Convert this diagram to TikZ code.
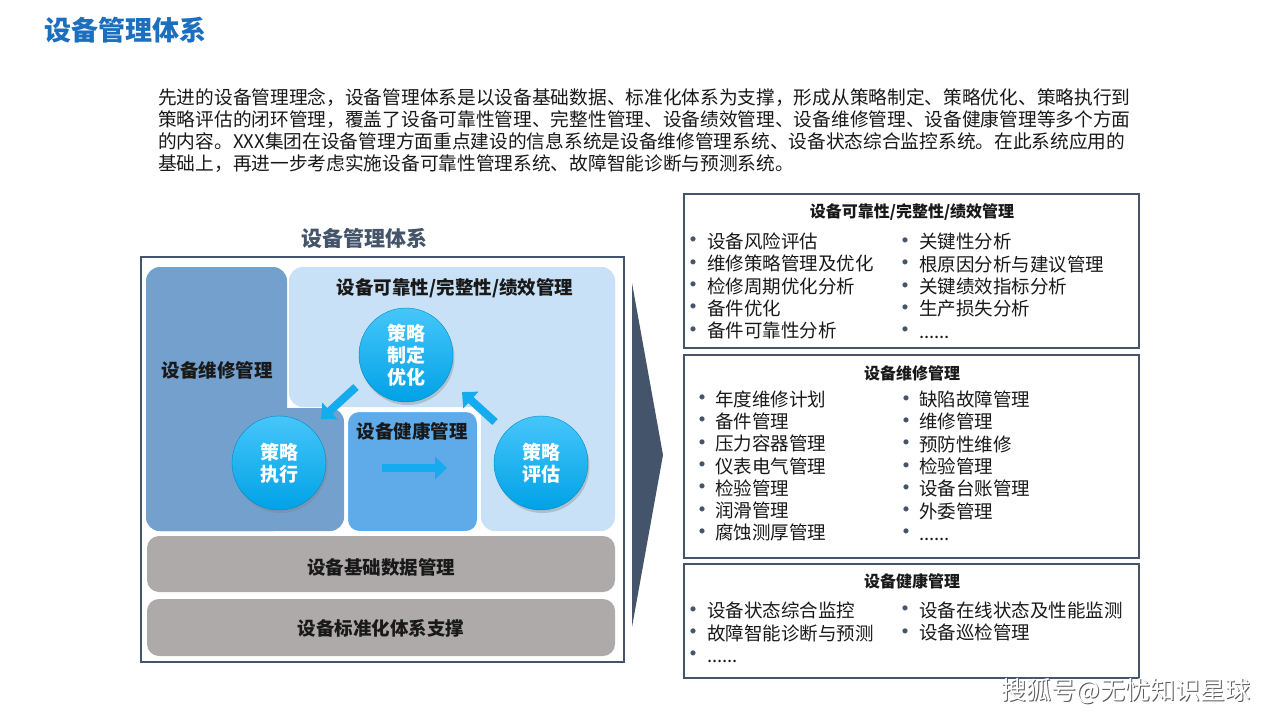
\documentclass[tikz,border=0pt]{standalone}
\usepackage{fontspec}
\setmainfont{Noto Sans CJK SC}
\usetikzlibrary{arrows.meta,shadows,calc}
\definecolor{titleblue}{RGB}{28,110,190}
\definecolor{slate}{RGB}{68,84,106}
\definecolor{darkblk}{RGB}{115,160,205}
\definecolor{lightblk}{RGB}{200,225,246}
\definecolor{healthblk}{RGB}{95,170,233}
\definecolor{graybar}{RGB}{174,170,170}
\definecolor{circtop}{RGB}{70,198,250}
\definecolor{circbot}{RGB}{0,162,230}
\definecolor{arrc}{RGB}{20,172,238}
\definecolor{txt}{RGB}{25,25,25}
\newcommand{\bitem}[1][18pt]{\makebox[#1][l]{\hspace{-8pt}\textcolor{slate}{\fontsize{24}{22}\selectfont\raisebox{-0.5pt}{•}}}\ignorespaces}
\begin{document}
\begin{tikzpicture}[x=1pt,y=-1pt,
  lbl/.style={inner sep=0, font=\fontsize{18.5}{22}\selectfont\bfseries, text=txt},
  circ/.style={circle, minimum size=94pt, inner sep=0, top color=circtop, bottom color=circbot,
    draw=circbot!85!black, line width=0.4pt, align=center, text=white,
    font=\fontsize{19}{22}\selectfont\bfseries,
    drop shadow={opacity=0.35, shadow xshift=1.5pt, shadow yshift=-3pt}},
  bigarr/.style={draw=arrc, line width=8pt, -{Triangle[width=22pt,length=12pt]}},
  boxtitle/.style={inner sep=0, font=\fontsize{16}{18}\selectfont\bfseries, text=txt},
  lst/.style={inner sep=0, anchor=west, align=left, text=txt, font=\fontsize{18.5}{22.3}\selectfont},
  rbox/.style={draw=slate, line width=1.8pt}]
\useasboundingbox (0,0) rectangle (1280,720);
\fill[white] (0,0) rectangle (1280,720);

% page title
\node[anchor=west, inner sep=0, font=\fontsize{27}{30}\selectfont\bfseries, text=titleblue] (title) at (44,30) {设备管理体系};

% paragraph
\node[anchor=west, inner sep=0, align=left, text=txt, font=\fontsize{18.7}{22}\selectfont] (para) at (158,130)
{先进的设备管理理念，设备管理体系是以设备基础数据、标准化体系为支撑，形成从策略制定、策略优化、策略执行到\\
策略评估的闭环管理，覆盖了设备可靠性管理、完整性管理、设备绩效管理、设备维修管理、设备健康管理等多个方面\\
的内容。XXX集团在设备管理方面重点建设的信息系统是设备维修管理系统、设备状态综合监控系统。在此系统应用的\\
基础上，再进一步考虑实施设备可靠性管理系统、故障智能诊断与预测系统。};

% left diagram
\node[inner sep=0, font=\fontsize{21}{24}\selectfont\bfseries, text=slate] (hd) at (364,238) {设备管理体系};
\draw[slate, line width=1.2pt] (141,257) rectangle (624,662);

\fill[darkblk, rounded corners=14pt] (146,267) rectangle (287,531);
\fill[darkblk, rounded corners=14pt] (146,408) rectangle (344,531);
\fill[lightblk, rounded corners=14pt] (289,267) rectangle (615,407);
\fill[lightblk, rounded corners=14pt] (481,267) rectangle (615,531);
\draw[white, line width=2pt, fill=healthblk, rounded corners=12pt] (347,411) rectangle (478,532);
\fill[graybar, rounded corners=12pt] (147,536) rectangle (615,592);
\fill[graybar, rounded corners=12pt] (147,599) rectangle (615,656);

\node[lbl] (wx) at (217,370) {设备维修管理};
\node[lbl] (kk) at (455,288) {设备可靠性/完整性/绩效管理};
\node[lbl] (jk) at (412,431) {设备健康管理};
\node[lbl] (jc) at (381,567) {设备基础数据管理};
\node[lbl] (bz) at (381,628) {设备标准化体系支撑};

\node[circ] (c1) at (406,355) {策略\\制定\\优化};
\node[circ] (c2) at (279,463) {策略\\执行};
\node[circ] (c3) at (541,463) {策略\\评估};

\draw[bigarr] ($(c1)+(-50,32)$) -- ($(c2)+(42,-44)$);
\draw[bigarr] ($(c3)+(-46,-41)$) -- ($(c1)+(56,37)$);
\draw[bigarr] ($(c2)+(103,5)$) -- ($(c3)+(-94,5)$);

% chevron
\fill[slate] (632,283) -- (663,455) -- (632,627) -- cycle;

% right boxes
\draw[rbox] (684,194) rectangle (1139,348);
\draw[rbox] (684,355) rectangle (1139,558);
\draw[rbox] (684,564) rectangle (1139,678);

\node[boxtitle] (ta) at (912,212) {设备可靠性/完整性/绩效管理};
\node[boxtitle] (tb) at (912,373) {设备维修管理};
\node[boxtitle] (tc) at (912,581) {设备健康管理};

\node[lst] (a1) at (689,286) {\bitem 设备风险评估\\ \bitem 维修策略管理及优化\\ \bitem 检修周期优化分析\\ \bitem 备件优化\\ \bitem 备件可靠性分析};
\node[lst] (a2) at (901,286) {\bitem 关键性分析\\ \bitem 根原因分析与建议管理\\ \bitem 关键绩效指标分析\\ \bitem 生产损失分析\\ \bitem ......};

\node[lst] (b1) at (698,466) {\bitem[17pt] 年度维修计划\\ \bitem[17pt] 备件管理\\ \bitem[17pt] 压力容器管理\\ \bitem[17pt] 仪表电气管理\\ \bitem[17pt] 检验管理\\ \bitem[17pt] 润滑管理\\ \bitem[17pt] 腐蚀测厚管理};
\node[lst] (b2) at (902,466) {\bitem[17pt] 缺陷故障管理\\ \bitem[17pt] 维修管理\\ \bitem[17pt] 预防性维修\\ \bitem[17pt] 检验管理\\ \bitem[17pt] 设备台账管理\\ \bitem[17pt] 外委管理\\ \bitem[17pt] ......};

\node[lst] (c1l) at (689,632.5) {\bitem 设备状态综合监控\\ \bitem 故障智能诊断与预测\\ \bitem ......};
\node[lst] (c2l) at (901,621.5) {\bitem 设备在线状态及性能监测\\ \bitem 设备巡检管理};

% watermark
\node[inner sep=0, font=\fontsize{25}{25}\selectfont, text=black!65] (wm0) at (1127.2,692.2) {搜狐号@无忧知识星球};
\node[inner sep=0, font=\fontsize{25}{25}\selectfont, text=white] (wm) at (1126,691) {搜狐号@无忧知识星球};
\end{tikzpicture}
\end{document}
